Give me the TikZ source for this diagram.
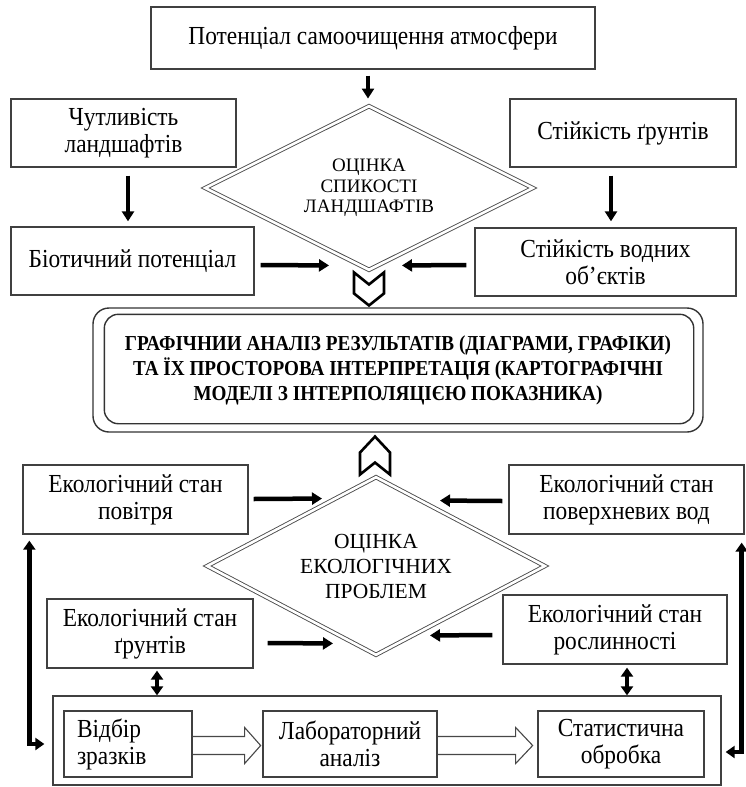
\documentclass[tikz,border=0pt]{standalone}
\usepackage{fontspec}
\setmainfont{Liberation Serif}
\newfontfamily\condfont[FakeStretch=0.9]{Liberation Serif}
\usetikzlibrary{shapes.geometric,arrows.meta,calc}
\begin{document}
\begin{tikzpicture}[x=1pt,y=-1pt,
  box/.style={draw=black!75, line width=1.3pt, rectangle, inner sep=0pt, align=center,
    font=\condfont\fontsize{26}{27}\selectfont},
  dia/.style={diamond, aspect=2, inner sep=0pt, draw=black!70, line width=0.9pt,
    double=white, double distance=2.6pt, align=center},
  arr/.style={line width=4.5pt, -{Triangle[length=10pt,width=12pt]}},
  darr/.style={line width=4.5pt, {Triangle[length=9pt,width=12pt]}-{Triangle[length=9pt,width=12pt]}},
  chev/.style={draw=black, line width=2.6pt, fill=white, line join=miter},
  barrow/.style={draw=black!72, line width=1.1pt, line join=miter},
  bigbox/.style={draw=black!80, line width=1.4pt, rounded corners=16pt, minimum width=610pt,
    minimum height=124pt, inner sep=0pt, align=center,
    font=\condfont\fontsize{21.3}{25}\selectfont\bfseries}
]
\useasboundingbox (0,0) rectangle (745,787);

% upper part
\node[box, minimum width=444pt, minimum height=62pt] (top) at (373,38) {Потенціал самоочищення атмосфери};
\node[box, minimum width=225pt, minimum height=68pt] (chut) at (123.5,133) {Чутливість\\ландшафтів};
\node[box, minimum width=226pt, minimum height=68pt] (stiyk) at (623,133) {Стійкість ґрунтів};
\node[box, minimum width=243pt, minimum height=68pt] (biot) at (132.5,261) {Біотичний потенціал};
\node[box, minimum width=261pt, minimum height=68pt] (vod) at (605.5,262) {Стійкість водних\\об’єктів};
\node[dia, minimum width=328pt, minimum height=164pt, font=\fontsize{19}{20.5}\selectfont] (d1) at (369,188) {ОЦІНКА\\СПИКОСТІ\\ЛАНДШАФТІВ};

% central box
\node[bigbox] (big) at (398,370) {ГРАФІЧНИИ АНАЛІЗ РЕЗУЛЬТАТІВ (ДІАГРАМИ, ГРАФІКИ)\\ТА ЇХ ПРОСТОРОВА ІНТЕРПРЕТАЦІЯ (КАРТОГРАФІЧНІ\\МОДЕЛІ З ІНТЕРПОЛЯЦІЄЮ ПОКАЗНИКА)};
\draw[draw=black!80, line width=1.4pt, rounded corners=14pt] ($(big.north west)+(12,7)$) rectangle ($(big.south east)+(-10,-9)$);

% lower part
\node[box, minimum width=225pt, minimum height=69pt] (povitrya) at (135.5,499.5) {Екологічний стан\\повітря};
\node[box, minimum width=235pt, minimum height=69pt] (poverkh) at (626.5,499.5) {Екологічний стан\\поверхневих вод};
\node[dia, minimum width=338pt, minimum height=178pt, font=\fontsize{21.5}{25}\selectfont] (d2) at (376,566) {ОЦІНКА\\ЕКОЛОГІЧНИХ\\ПРОБЛЕМ};
\node[box, minimum width=206pt, minimum height=69pt] (grunt) at (150,633.5) {Екологічний стан\\ґрунтів};
\node[box, minimum width=224pt, minimum height=69pt] (rosl) at (615,629.5) {Екологічний стан\\рослинності};
\node[box, minimum width=668pt, minimum height=89pt] (lower) at (387,740.5) {};
\node[box, text width=102pt, inner xsep=13pt, minimum height=66pt, align=left] (vidbir) at (128,744) {Відбір\\зразків};
\node[box, minimum width=174pt, minimum height=66pt] (lab) at (350,744) {Лабораторний\\аналіз};
\node[box, minimum width=166pt, minimum height=66pt] (stat) at (621,744) {Статистична\\обробка};

% arrows upper
\draw[arr] ($(top.south)+(-5,6)$) -- ($(d1.north)+(-1,-7)$);
\draw[arr] ($(chut.south)+(4.5,8)$) -- ($(biot.north)+(-4.5,-5)$);
\draw[arr] ($(stiyk.south)+(-12,8)$) -- ($(vod.north)+(5.5,-6)$);
\draw[arr] ($(biot.east)+(6,4)$) -- ($(d1.south)+(-40,-5)$);
\draw[arr] ($(vod.west)+(-8,3)$) -- ($(d1.south)+(33,-5)$);

% chevrons
\draw[chev] ($(d1.south)+(-15,2)$) -- ($(d1.south)+(0,14)$) -- ($(d1.south)+(15,2)$) -- ($(d1.south)+(15,23)$) -- ($(d1.south)+(0,35)$) -- ($(d1.south)+(-15,23)$) -- cycle;
\draw[chev] ($(d2.north)+(-16,-2)$) -- ($(d2.north)+(-1,-14)$) -- ($(d2.north)+(14,-2)$) -- ($(d2.north)+(14,-24)$) -- ($(d2.north)+(-1,-40)$) -- ($(d2.north)+(-16,-24)$) -- cycle;

% arrows lower
\draw[arr] ($(povitrya.east)+(5,-0.5)$) -- ($(d2.north)+(-54,22)$);
\draw[arr] ($(poverkh.west)+(-6,1.5)$) -- ($(d2.north)+(64,24)$);
\draw[arr] ($(grunt.east)+(14,9.5)$) -- ($(d2.south)+(-43,-12)$);
\draw[arr] ($(rosl.west)+(-10,5.5)$) -- ($(d2.south)+(54,-20)$);

\coordinate (g1) at ($(grunt.south)+(7,2)$);
\coordinate (r1) at ($(rosl.south)+(12,3)$);
\draw[darr] (g1) -- (g1 |- lower.north);
\draw[darr] (r1) -- (r1 |- lower.north);

\coordinate (l1) at ($(povitrya.south west)+(7,6)$);
\coordinate (l2) at ($(lower.west)+(-8,3.5)$);
\draw[darr, line join=miter] (l1) |- (l2);
\coordinate (p1) at ($(poverkh.south east)+(-3,8)$);
\coordinate (p2) at ($(lower.east)+(4,11.5)$);
\draw[darr, line join=miter] (p1) |- (p2);

% block arrows
\draw[barrow] ($(vidbir.east)+(0,-7.5)$) -- ++(52,0) -- ++(0,-9) -- ($(vidbir.east)+(68,1.5)$) -- ($(vidbir.east)+(52,19.5)$) -- ++(0,-9) -- ($(vidbir.east)+(0,10.5)$);
\draw[barrow] ($(lab.east)+(0,-7.5)$) -- ++(78,0) -- ++(0,-9) -- ($(lab.east)+(95,1.5)$) -- ($(lab.east)+(78,19.5)$) -- ++(0,-9) -- ($(lab.east)+(0,10.5)$);
\end{tikzpicture}
\end{document}
